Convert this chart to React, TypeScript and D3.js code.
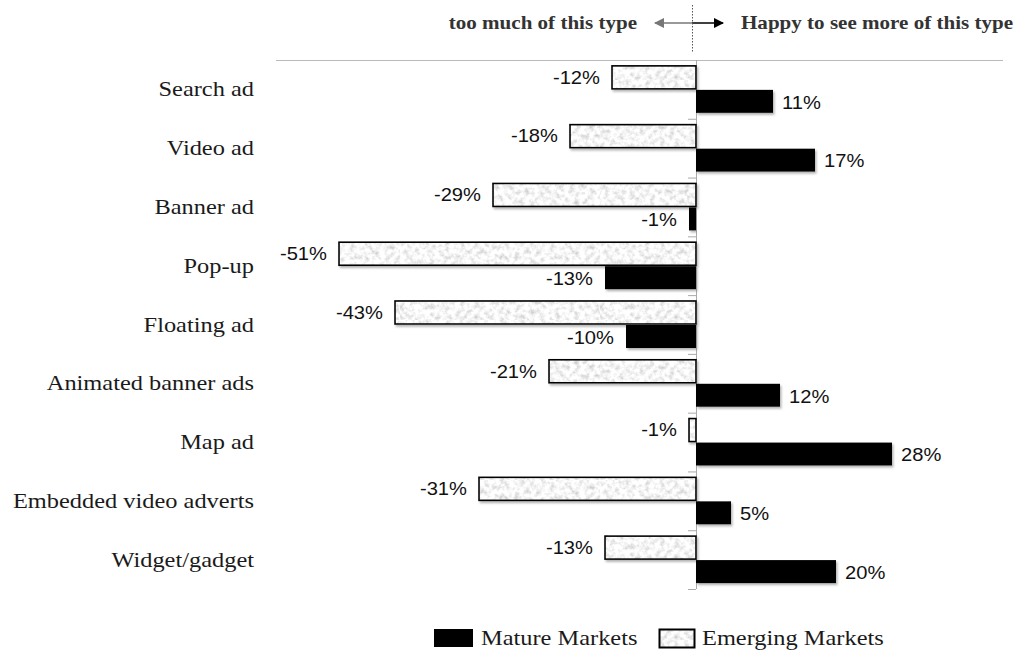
import React from "react";
import * as d3 from "d3";

const categories = [
  "Search ad",
  "Video ad",
  "Banner ad",
  "Pop-up",
  "Floating ad",
  "Animated banner ads",
  "Map ad",
  "Embedded video adverts",
  "Widget/gadget",
];
const emergingValues = [-12, -18, -29, -51, -43, -21, -1, -31, -13];
const matureValues = [11, 17, -1, -13, -10, 12, 28, 5, 20];
const seriesNames = ["Mature Markets", "Emerging Markets"];
const headerLeft = "too much of this type";
const headerRight = "Happy to see more of this type";

const W = 1019;
const H = 658;

export default function App() {
  const x = d3.scaleLinear().domain([0, 10]).range([696, 766]);
  const y = d3
    .scaleBand<string>()
    .domain(categories)
    .range([60, 589])
    .paddingInner(0.2)
    .paddingOuter(0.1);
  const yOuter = d3.scaleBand<string>().domain(categories).range([60, 589]);
  const inner = d3.scaleBand<string>().domain(["e", "m"]).range([0, y.bandwidth()]).paddingInner(0.04);
  const fmt = (v: number) => `${v}%`;
  const x0 = x(0);
  const serif = "'Liberation Serif', 'Times New Roman', serif";
  const sans = "'Liberation Sans', Arial, sans-serif";

  // text drawn with a horizontal stretch around its anchor point
  const wide = (
    tx: number,
    ty: number,
    sx: number,
    anchor: "start" | "end",
    props: any,
    content: string,
    key?: string
  ) => (
    <text
      key={key}
      transform={`translate(${tx},${ty}) scale(${sx},1)`}
      textAnchor={anchor}
      dy="0.35em"
      {...props}
    >
      {content}
    </text>
  );

  const barLabel = (v: number, yc: number, key: string) => {
    const end = x(v);
    const neg = v < 0;
    return wide(
      neg ? end - 12 : end + 9,
      yc,
      1.12,
      neg ? "end" : "start",
      { fontFamily: sans, fontSize: 18, fill: "#111" },
      fmt(v),
      key
    );
  };

  return (
    <svg
      width={W}
      height={H}
      style={{ position: "absolute", left: 0, top: 0, background: "#fff" }}
    >
      <defs>
        <filter id="speckle" x="0" y="0" width="100%" height="100%">
          <feTurbulence type="fractalNoise" baseFrequency="0.2" numOctaves={4} seed={7} result="n" />
          <feColorMatrix
            in="n"
            type="matrix"
            values="0.8 0 0 0 0.52  0.8 0 0 0 0.52  0.8 0 0 0 0.52  0 0 0 0 1"
          />
        </filter>
        <pattern id="emergingFill" patternUnits="userSpaceOnUse" width={200} height={80}>
          <rect width={200} height={80} filter="url(#speckle)" />
        </pattern>
        <filter id="shadow" x="-5%" y="-20%" width="115%" height="160%">
          <feDropShadow dx={1.5} dy={2} stdDeviation={1} floodColor="#777" floodOpacity={0.55} />
        </filter>
        <marker id="arrowL" viewBox="0 0 10 10" refX={9} refY={5} markerWidth={7} markerHeight={7} orient="auto-start-reverse">
          <path d="M0,0 L10,5 L0,10 z" fill="#777" />
        </marker>
        <marker id="arrowR" viewBox="0 0 10 10" refX={9} refY={5} markerWidth={7} markerHeight={7} orient="auto">
          <path d="M0,0 L10,5 L0,10 z" fill="#000" />
        </marker>
      </defs>

      {/* header with direction arrows */}
      {wide(637, 23, 1.17, "end", { fontFamily: serif, fontWeight: "bold", fontSize: 18, fill: "#333" }, headerLeft)}
      {wide(741, 23, 1.17, "start", { fontFamily: serif, fontWeight: "bold", fontSize: 18, fill: "#333" }, headerRight)}
      <line x1={692} x2={655} y1={23} y2={23} stroke="#777" strokeWidth={1.5} markerEnd="url(#arrowL)" />
      <line x1={692} x2={723} y1={23} y2={23} stroke="#000" strokeWidth={1.5} markerEnd="url(#arrowR)" />
      <line x1={692.5} x2={692.5} y1={5} y2={53} stroke="#555" strokeWidth={1} strokeDasharray="1.5,1.5" />

      {/* top rule */}
      <line x1={276} x2={1003} y1={60.5} y2={60.5} stroke="#bbb" strokeWidth={1.2} />

      {/* category axis at zero */}
      <line x1={x0 + 0.5} x2={x0 + 0.5} y1={60} y2={589} stroke="#aaa" strokeWidth={1} />
      {categories.map((c, i) => (
        <line
          key={`t${i}`}
          x1={x0 - 8}
          x2={x0}
          y1={(yOuter(c) as number) + yOuter.bandwidth() + 0.5}
          y2={(yOuter(c) as number) + yOuter.bandwidth() + 0.5}
          stroke="#aaa"
        />
      ))}

      {categories.map((c, i) => {
        const top = y(c) as number;
        const ey = top + (inner("e") as number);
        const my = top + (inner("m") as number);
        const bh = inner.bandwidth();
        const ev = emergingValues[i];
        const mv = matureValues[i];
        return (
          <g key={c}>
            {wide(
              254,
              (yOuter(c) as number) + yOuter.bandwidth() / 2,
              1.22,
              "end",
              { fontFamily: serif, fontSize: 20, fill: "#1a1a1a" },
              c
            )}
            <rect
              x={Math.min(x(ev), x0)}
              y={ey}
              width={Math.abs(x(ev) - x0)}
              height={bh}
              fill="url(#emergingFill)"
              stroke="#000"
              strokeWidth={1.6}
              filter="url(#shadow)"
            />
            <rect
              x={Math.min(x(mv), x0)}
              y={my}
              width={Math.abs(x(mv) - x0)}
              height={bh}
              fill="#000"
              filter="url(#shadow)"
            />
            {barLabel(ev, ey + bh / 2, "le")}
            {barLabel(mv, my + bh / 2 + 1, "lm")}
          </g>
        );
      })}

      {/* legend */}
      <rect x={434} y={629} width={39} height={18} fill="#000" />
      {wide(481, 638, 1.22, "start", { fontFamily: serif, fontSize: 20, fill: "#1a1a1a" }, seriesNames[0])}
      <rect x={659.5} y={629.5} width={35} height={18} fill="url(#emergingFill)" stroke="#000" strokeWidth={2} />
      {wide(702, 638, 1.22, "start", { fontFamily: serif, fontSize: 20, fill: "#1a1a1a" }, seriesNames[1])}
    </svg>
  );
}
